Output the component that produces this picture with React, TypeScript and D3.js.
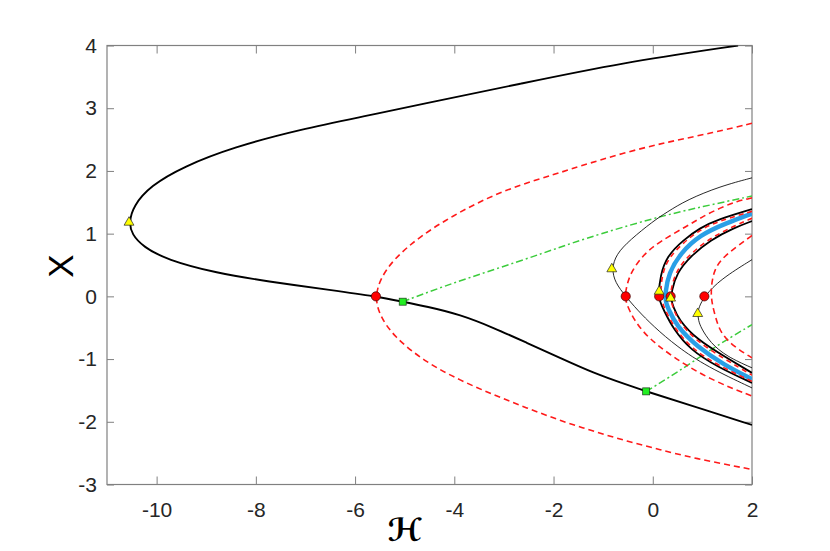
import React, { useEffect, useRef } from "react";
import * as d3 from "d3";

type P = [number, number];

const xTicks = [-10, -8, -6, -4, -2, 0, 2];
const yTicks = [-3, -2, -1, 0, 1, 2, 3, 4];

// main solution branch (black, thick)
const mainBranch: P[] = [
  [1.72, 4.0], [-0.66, 3.72], [-2.67, 3.39], [-4.69, 3.06], [-5.76, 2.88], [-7.11, 2.66],
  [-8.45, 2.38], [-9.46, 2.07], [-10.13, 1.76], [-10.47, 1.44], [-10.556, 1.18],
  [-10.5, 0.99], [-10.27, 0.79], [-9.8, 0.585], [-8.79, 0.37], [-7.78, 0.24], [-6.44, 0.096],
  [-5.58, 0.0], [-5.04, -0.085], [-4.56, -0.16], [-3.88, -0.29], [-3.21, -0.5], [-2.54, -0.74],
  [-1.87, -0.98], [-1.2, -1.22], [-0.52, -1.41], [-0.133, -1.515], [0.82, -1.75], [2.0, -2.05],
];

// outer red dashed branch
const redOuter: P[] = [
  [2.0, 2.76], [1.22, 2.61], [0.35, 2.47], [-0.59, 2.29], [-1.53, 2.06], [-2.0, 1.94],
  [-2.67, 1.78], [-3.34, 1.57], [-4.02, 1.29], [-4.69, 0.96], [-5.23, 0.59], [-5.5, 0.27],
  [-5.59, 0.0], [-5.53, -0.27], [-5.23, -0.64], [-4.56, -1.06], [-3.88, -1.34], [-3.21, -1.57],
  [-2.54, -1.78], [-1.87, -1.98], [-1.2, -2.15], [-0.52, -2.31], [0.15, -2.445], [0.82, -2.58],
  [2.0, -2.76],
];

// green dash-dot branches
const greenUpper: P[] = [
  [-5.04, -0.085], [-4.22, 0.16], [-3.21, 0.425], [-2.2, 0.69], [-1.46, 0.9], [0.01, 1.25],
  [1.02, 1.435], [2.0, 1.6],
];
const greenLower: P[] = [[-0.133, -1.515], [0.48, -1.22], [1.16, -0.85], [2.0, -0.45]];

// thin black branches
const thinOuter: P[] = [
  [2.0, 1.89], [1.36, 1.755], [0.69, 1.54], [0.28, 1.34], [0.01, 1.2], [-0.46, 0.9],
  [-0.74, 0.67], [-0.826, 0.437], [-0.76, 0.22], [-0.545, 0.0], [-0.32, -0.21],
  [0.015, -0.48], [0.485, -0.8], [1.09, -1.12], [2.0, -1.46],
];
const thinInner: P[] = [
  [2.0, 0.585], [1.36, 0.27], [1.04, 0.0], [0.93, -0.17], [0.906, -0.276], [0.92, -0.38],
  [0.97, -0.5], [1.16, -0.74], [1.49, -0.96], [2.0, -1.14],
];

// red dashed branches near the right
const redMid: P[] = [
  [2.0, 1.57], [1.7, 1.52], [1.36, 1.41], [1.02, 1.28], [0.69, 1.12], [0.15, 0.88],
  [-0.19, 0.67], [-0.455, 0.37], [-0.54, 0.12], [-0.56, -0.03], [-0.49, -0.21],
  [-0.22, -0.58], [0.38, -0.96], [1.16, -1.33], [2.0, -1.59],
];
const redInner: P[] = [
  [2.0, 0.97], [1.7, 0.8], [1.36, 0.585], [1.22, 0.38], [1.17, 0.1], [1.19, -0.1],
  [1.26, -0.32], [1.36, -0.58], [1.63, -0.8], [2.0, -0.98],
];

// thick black branches around the blue one
const blackLeft: P[] = [
  [2.0, 1.39], [1.29, 1.22], [0.95, 1.09], [0.62, 0.9], [0.28, 0.64], [0.15, 0.32],
  [0.12, 0.05], [0.14, -0.08], [0.215, -0.21], [0.42, -0.53], [0.755, -0.85],
  [1.29, -1.12], [2.0, -1.38],
];
const blackRight: P[] = [
  [2.0, 1.2], [1.63, 1.09], [1.16, 0.9], [0.76, 0.64], [0.48, 0.37], [0.38, 0.08],
  [0.37, -0.05], [0.41, -0.16], [0.52, -0.37], [0.89, -0.69], [1.49, -0.98], [2.0, -1.22],
];
const blueBranch: P[] = [
  [2.0, 1.32], [1.49, 1.17], [0.95, 0.98], [0.56, 0.69], [0.32, 0.37], [0.25, 0.05],
  [0.26, -0.08], [0.3, -0.18], [0.485, -0.48], [0.89, -0.8], [1.43, -1.09], [2.0, -1.32],
];
const redOnLeft: P[] = [
  [2.0, 1.355], [1.29, 1.19], [0.95, 1.06], [0.62, 0.86], [0.3, 0.6], [0.18, 0.32],
  [0.15, 0.0], [0.24, -0.21], [0.45, -0.52], [0.78, -0.83], [1.31, -1.1], [2.0, -1.355],
];
const redOnRight: P[] = [
  [2.0, 1.245], [1.63, 1.12], [1.16, 0.93], [0.74, 0.67], [0.45, 0.39], [0.35, 0.05],
  [0.37, -0.1], [0.5, -0.38], [0.87, -0.71], [1.47, -1.01], [2.0, -1.255],
];

// special points
const redCircles: P[] = [[-5.58, 0], [-0.545, 0], [0.129, 0], [0.36, 0], [1.04, 0]];
const yellowTriangles: P[] = [
  [-10.556, 1.18], [-0.826, 0.437], [0.129, 0.08], [0.36, -0.03], [0.906, -0.276],
];
const greenSquares: P[] = [[-5.04, -0.085], [-0.133, -1.515]];

export default function App() {
  const ref = useRef<SVGSVGElement>(null);

  useEffect(() => {
    document.body.style.margin = "0";
    const svg = d3.select(ref.current);
    svg.selectAll("*").remove();

    const L = 107, R = 752, T = 45.5, B = 484.5;
    const x = d3.scaleLinear().domain([-11, 2]).range([L, R]);
    const y = d3.scaleLinear().domain([-3, 4]).range([B, T]);
    const font = "'Liberation Sans', Arial, Helvetica, sans-serif";
    const axisColor = "#808080";
    const fmt = (d: any) => String(d);

    svg.append("rect").attr("width", 830).attr("height", 551).attr("fill", "#fff");

    svg.append("defs").append("clipPath").attr("id", "plotclip")
      .append("rect").attr("x", L).attr("y", T).attr("width", R - L).attr("height", B - T);

    const styleAxis = (g: any, labels: boolean) => {
      g.select(".domain").remove();
      g.selectAll(".tick line").attr("stroke", axisColor).attr("stroke-width", 1);
      if (!labels) {
        g.selectAll(".tick text").remove();
        return;
      }
      g.selectAll(".tick text")
        .attr("fill", "#262626")
        .style("font-family", font)
        .style("font-size", "21px");
    };

    svg.append("g").attr("transform", `translate(0,${B})`)
      .call(d3.axisBottom(x).tickValues(xTicks).tickSizeInner(-8).tickSizeOuter(0).tickPadding(18).tickFormat(fmt))
      .call((g: any) => styleAxis(g, true));
    svg.append("g").attr("transform", `translate(0,${T})`)
      .call(d3.axisTop(x).tickValues(xTicks).tickSizeInner(-8).tickSizeOuter(0))
      .call((g: any) => styleAxis(g, false));
    svg.append("g").attr("transform", `translate(${L},0)`)
      .call(d3.axisLeft(y).tickValues(yTicks).tickSizeInner(-7).tickSizeOuter(0).tickPadding(10).tickFormat(fmt))
      .call((g: any) => styleAxis(g, true));
    svg.append("g").attr("transform", `translate(${R},0)`)
      .call(d3.axisRight(y).tickValues(yTicks).tickSizeInner(-7).tickSizeOuter(0))
      .call((g: any) => styleAxis(g, false));

    svg.append("rect").attr("x", L).attr("y", T).attr("width", R - L).attr("height", B - T)
      .attr("fill", "none").attr("stroke", axisColor).attr("stroke-width", 1.2);

    const line = d3.line<P>().x((d) => x(d[0])).y((d) => y(d[1])).curve(d3.curveBasis);

    const series = [
      { data: redOuter, color: "#ff1a1a", width: 1.6, dash: "6,4" },
      { data: greenUpper, color: "#3ccc3c", width: 1.5, dash: "7,3,2,3" },
      { data: greenLower, color: "#3ccc3c", width: 1.5, dash: "7,3,2,3" },
      { data: mainBranch, color: "#000", width: 1.9, dash: null },
      { data: thinOuter, color: "#111", width: 0.9, dash: null },
      { data: redMid, color: "#ff1a1a", width: 1.6, dash: "6,4" },
      { data: thinInner, color: "#111", width: 0.9, dash: null },
      { data: redInner, color: "#ff1a1a", width: 1.6, dash: "6,4" },
      { data: blackLeft, color: "#000", width: 1.8, dash: null },
      { data: blackRight, color: "#000", width: 1.8, dash: null },
      { data: blueBranch, color: "#2a9fe6", width: 4.4, dash: null },
      { data: redOnLeft, color: "#ff1a1a", width: 1.6, dash: "5,4" },
      { data: redOnRight, color: "#ff1a1a", width: 1.6, dash: "5,4" },
    ];

    const plot = svg.append("g").attr("clip-path", "url(#plotclip)");
    series.forEach((s) => {
      plot.append("path").attr("d", line(s.data) as string)
        .attr("fill", "none").attr("stroke", s.color).attr("stroke-width", s.width)
        .attr("stroke-dasharray", s.dash ?? null).attr("stroke-linejoin", "round");
    });

    const marks = svg.append("g");
    marks.selectAll("rect.sq").data(greenSquares).enter().append("rect")
      .attr("x", (d) => x(d[0]) - 3.5).attr("y", (d) => y(d[1]) - 3.5)
      .attr("width", 7).attr("height", 7)
      .attr("fill", "#22ee22").attr("stroke", "#1a3a1a").attr("stroke-width", 0.7);
    marks.selectAll("circle").data(redCircles).enter().append("circle")
      .attr("cx", (d) => x(d[0])).attr("cy", (d) => y(d[1])).attr("r", 4.6)
      .attr("fill", "#ff0000").attr("stroke", "#3a0000").attr("stroke-width", 0.7);
    const tri = d3.symbol().type(d3.symbolTriangle).size(42);
    marks.selectAll("path.tri").data(yellowTriangles).enter().append("path")
      .attr("d", tri() as string)
      .attr("transform", (d) => `translate(${x(d[0])},${y(d[1])})`)
      .attr("fill", "#ffff00").attr("stroke", "#222").attr("stroke-width", 0.7);

    svg.append("text").attr("x", 405).attr("y", 541).attr("text-anchor", "middle")
      .style("font-family", "'DejaVu Serif', 'DejaVu Sans', serif").style("font-size", "32px")
      .style("font-weight", "bold").style("font-style", "italic").attr("fill", "#000").text("ℋ");
    svg.append("text").attr("transform", "translate(73,266) rotate(-90)").attr("text-anchor", "middle")
      .style("font-family", font).style("font-size", "35px").attr("fill", "#000").text("X");
  }, []);

  return <svg ref={ref} width={830} height={551} style={{ display: "block" }} />;
}
